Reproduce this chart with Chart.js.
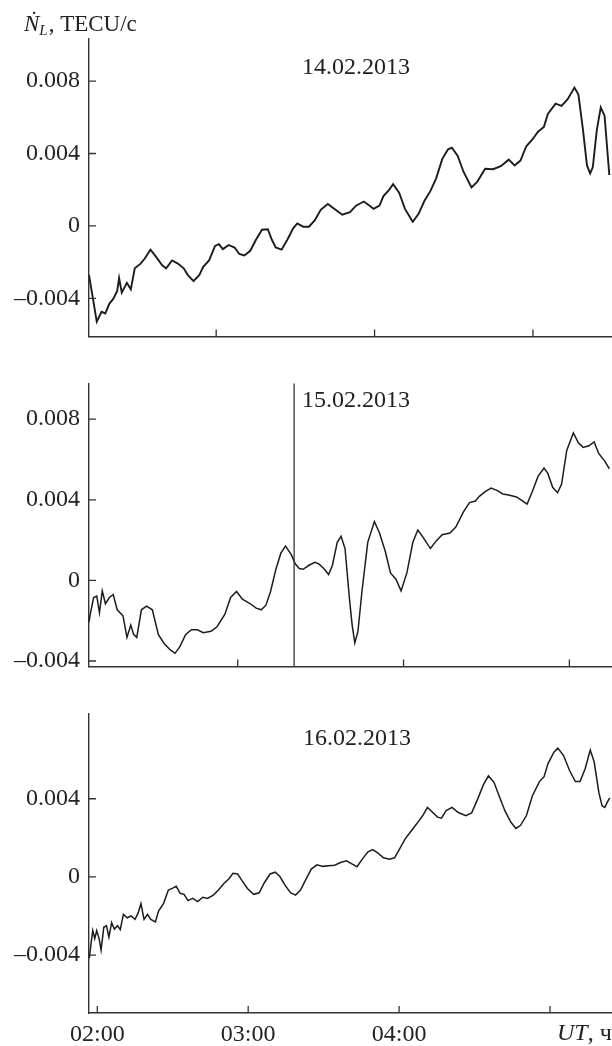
<!DOCTYPE html>
<html>
<head>
<meta charset="utf-8">
<script src="https://cdn.jsdelivr.net/npm/chart.js@4.4.1/dist/chart.umd.min.js"></script>
<style>
  body { margin: 0; background: #fff; }
  #wrap { position: relative; width: 612px; height: 1046px; }
  canvas { position: absolute; left: 0; }
</style>
</head>
<body>
<div id="wrap">
  <canvas id="p1" width="612" height="360" style="top:0"></canvas>
  <canvas id="p2" width="612" height="330" style="top:360px"></canvas>
  <canvas id="p3" width="612" height="356" style="top:690px"></canvas>
</div>
<script>
// time in hours UT, rate of TEC change in TECU/s

// 14.02.2013
const t1 = [2.197, 2.246, 2.276, 2.300, 2.325, 2.350, 2.375, 2.387, 2.404, 2.436, 2.461, 2.486, 2.523, 2.548, 2.585, 2.622, 2.659, 2.684, 2.721, 2.758, 2.795, 2.820, 2.857, 2.894, 2.918, 2.955, 2.993, 3.017, 3.042, 3.079, 3.116, 3.146, 3.178, 3.215, 3.252, 3.289, 3.326, 3.351, 3.376, 3.413, 3.450, 3.487, 3.512, 3.549, 3.586, 3.623, 3.660, 3.705, 3.747, 3.796, 3.845, 3.883, 3.932, 3.969, 3.994, 4.031, 4.056, 4.093, 4.117, 4.155, 4.192, 4.241, 4.278, 4.315, 4.352, 4.389, 4.427, 4.464, 4.488, 4.525, 4.562, 4.612, 4.649, 4.698, 4.748, 4.797, 4.847, 4.884, 4.921, 4.958, 4.995, 5.032, 5.069, 5.094, 5.143, 5.180, 5.218, 5.262, 5.287, 5.316, 5.341, 5.361, 5.378, 5.403, 5.428, 5.452, 5.482];
const v1 = [-2.70e-3, -5.28e-3, -4.74e-3, -4.83e-3, -4.30e-3, -4.03e-3, -3.59e-3, -2.88e-3, -3.68e-3, -3.14e-3, -3.50e-3, -2.34e-3, -2.08e-3, -1.81e-3, -1.31e-3, -1.72e-3, -2.17e-3, -2.34e-3, -1.90e-3, -2.08e-3, -2.34e-3, -2.70e-3, -3.05e-3, -2.70e-3, -2.26e-3, -1.90e-3, -1.10e-3, -1.01e-3, -1.28e-3, -1.05e-3, -1.19e-3, -1.55e-3, -1.63e-3, -1.37e-3, -0.75e-3, -0.21e-3, -0.18e-3, -0.75e-3, -1.19e-3, -1.31e-3, -0.75e-3, -0.12e-3, 0.14e-3, -0.04e-3, -0.04e-3, 0.32e-3, 0.89e-3, 1.21e-3, 0.94e-3, 0.62e-3, 0.76e-3, 1.12e-3, 1.35e-3, 1.12e-3, 0.94e-3, 1.12e-3, 1.65e-3, 2.01e-3, 2.31e-3, 1.83e-3, 0.94e-3, 0.23e-3, 0.67e-3, 1.39e-3, 1.92e-3, 2.63e-3, 3.69e-3, 4.23e-3, 4.32e-3, 3.87e-3, 2.98e-3, 2.13e-3, 2.45e-3, 3.16e-3, 3.13e-3, 3.30e-3, 3.66e-3, 3.34e-3, 3.61e-3, 4.40e-3, 4.76e-3, 5.20e-3, 5.47e-3, 6.18e-3, 6.75e-3, 6.63e-3, 6.98e-3, 7.64e-3, 7.25e-3, 5.29e-3, 3.34e-3, 2.90e-3, 3.25e-3, 5.29e-3, 6.54e-3, 6.09e-3, 2.81e-3];

// 15.02.2013
const t2 = [2.103, 2.112, 2.131, 2.150, 2.166, 2.183, 2.202, 2.226, 2.249, 2.273, 2.308, 2.332, 2.355, 2.372, 2.391, 2.419, 2.450, 2.485, 2.521, 2.556, 2.592, 2.622, 2.651, 2.686, 2.721, 2.757, 2.792, 2.839, 2.875, 2.922, 2.957, 2.993, 3.028, 3.076, 3.111, 3.142, 3.170, 3.198, 3.229, 3.260, 3.288, 3.323, 3.347, 3.371, 3.394, 3.430, 3.465, 3.489, 3.519, 3.548, 3.571, 3.600, 3.623, 3.647, 3.673, 3.690, 3.706, 3.725, 3.749, 3.784, 3.824, 3.855, 3.890, 3.921, 3.954, 3.985, 4.020, 4.056, 4.086, 4.119, 4.162, 4.197, 4.233, 4.280, 4.315, 4.362, 4.398, 4.433, 4.457, 4.492, 4.528, 4.563, 4.599, 4.634, 4.681, 4.717, 4.745, 4.776, 4.811, 4.847, 4.870, 4.899, 4.929, 4.953, 4.984, 5.024, 5.054, 5.083, 5.118, 5.149, 5.177, 5.213, 5.241];
const v2 = [-2.07e-3, -1.61e-3, -0.85e-3, -0.78e-3, -1.61e-3, -0.52e-3, -1.16e-3, -0.85e-3, -0.70e-3, -1.46e-3, -1.76e-3, -2.83e-3, -2.22e-3, -2.68e-3, -2.83e-3, -1.46e-3, -1.28e-3, -1.46e-3, -2.68e-3, -3.13e-3, -3.44e-3, -3.62e-3, -3.29e-3, -2.68e-3, -2.45e-3, -2.45e-3, -2.60e-3, -2.53e-3, -2.30e-3, -1.69e-3, -0.85e-3, -0.55e-3, -0.93e-3, -1.16e-3, -1.38e-3, -1.46e-3, -1.23e-3, -0.55e-3, 0.52e-3, 1.35e-3, 1.70e-3, 1.28e-3, 0.82e-3, 0.59e-3, 0.55e-3, 0.75e-3, 0.90e-3, 0.82e-3, 0.59e-3, 0.29e-3, 0.75e-3, 1.89e-3, 2.19e-3, 1.58e-3, -0.85e-3, -2.22e-3, -3.10e-3, -2.53e-3, -0.55e-3, 1.89e-3, 2.92e-3, 2.35e-3, 1.43e-3, 0.37e-3, 0.06e-3, -0.52e-3, 0.37e-3, 1.89e-3, 2.50e-3, 2.12e-3, 1.58e-3, 1.96e-3, 2.27e-3, 2.35e-3, 2.65e-3, 3.41e-3, 3.86e-3, 3.94e-3, 4.17e-3, 4.40e-3, 4.58e-3, 4.47e-3, 4.29e-3, 4.24e-3, 4.14e-3, 3.94e-3, 3.79e-3, 4.40e-3, 5.16e-3, 5.57e-3, 5.31e-3, 4.62e-3, 4.35e-3, 4.78e-3, 6.45e-3, 7.32e-3, 6.83e-3, 6.60e-3, 6.68e-3, 6.87e-3, 6.30e-3, 5.92e-3, 5.54e-3];
const marker2 = 3.340;

// 16.02.2013
const t3 = [1.947, 1.957, 1.970, 1.983, 1.996, 2.012, 2.025, 2.043, 2.061, 2.077, 2.095, 2.113, 2.134, 2.152, 2.173, 2.198, 2.224, 2.250, 2.271, 2.289, 2.310, 2.333, 2.354, 2.385, 2.406, 2.440, 2.471, 2.497, 2.523, 2.549, 2.575, 2.601, 2.632, 2.665, 2.699, 2.730, 2.769, 2.803, 2.839, 2.873, 2.899, 2.930, 2.958, 2.995, 3.036, 3.073, 3.106, 3.145, 3.179, 3.210, 3.244, 3.280, 3.314, 3.347, 3.379, 3.418, 3.456, 3.495, 3.534, 3.573, 3.612, 3.651, 3.690, 3.721, 3.755, 3.794, 3.825, 3.858, 3.897, 3.936, 3.970, 4.001, 4.040, 4.079, 4.118, 4.157, 4.188, 4.222, 4.255, 4.281, 4.312, 4.351, 4.390, 4.442, 4.481, 4.520, 4.559, 4.592, 4.629, 4.663, 4.701, 4.740, 4.774, 4.805, 4.844, 4.883, 4.930, 4.961, 4.987, 5.026, 5.052, 5.090, 5.129, 5.168, 5.199, 5.233, 5.267, 5.293, 5.324, 5.345, 5.363, 5.381, 5.396];
const v3 = [-4.16e-3, -3.50e-3, -2.75e-3, -3.16e-3, -2.75e-3, -3.16e-3, -3.74e-3, -2.58e-3, -2.50e-3, -3.08e-3, -2.34e-3, -2.67e-3, -2.50e-3, -2.70e-3, -1.92e-3, -2.09e-3, -2.00e-3, -2.17e-3, -1.84e-3, -1.37e-3, -2.17e-3, -1.92e-3, -2.17e-3, -2.30e-3, -1.75e-3, -1.34e-3, -0.67e-3, -0.59e-3, -0.48e-3, -0.84e-3, -0.89e-3, -1.21e-3, -1.10e-3, -1.26e-3, -1.04e-3, -1.10e-3, -0.93e-3, -0.67e-3, -0.34e-3, -0.09e-3, 0.19e-3, 0.15e-3, -0.18e-3, -0.59e-3, -0.89e-3, -0.81e-3, -0.31e-3, 0.15e-3, 0.24e-3, 0.02e-3, -0.42e-3, -0.81e-3, -0.93e-3, -0.67e-3, -0.18e-3, 0.40e-3, 0.62e-3, 0.54e-3, 0.57e-3, 0.60e-3, 0.74e-3, 0.82e-3, 0.65e-3, 0.52e-3, 0.90e-3, 1.28e-3, 1.40e-3, 1.23e-3, 0.98e-3, 0.90e-3, 0.98e-3, 1.40e-3, 1.95e-3, 2.34e-3, 2.73e-3, 3.14e-3, 3.56e-3, 3.31e-3, 3.06e-3, 3.01e-3, 3.39e-3, 3.56e-3, 3.31e-3, 3.14e-3, 3.28e-3, 3.97e-3, 4.72e-3, 5.17e-3, 4.84e-3, 4.14e-3, 3.39e-3, 2.81e-3, 2.48e-3, 2.64e-3, 3.14e-3, 4.14e-3, 4.88e-3, 5.13e-3, 5.80e-3, 6.38e-3, 6.59e-3, 6.21e-3, 5.46e-3, 4.88e-3, 4.88e-3, 5.54e-3, 6.49e-3, 5.88e-3, 4.31e-3, 3.64e-3, 3.56e-3, 3.84e-3, 4.05e-3];

const dates = ['14.02.2013', '15.02.2013', '16.02.2013'];

// axis ticks
const yTicksA = [-0.004, 0, 0.004, 0.008];
const yLabelsA = ['\u20130.004', '0', '0.004', '0.008'];
const yTicksB = [-0.004, 0, 0.004];
const yLabelsB = ['\u20130.004', '0', '0.004'];
const xTicks = [2, 3, 4, 5];
const xLabels = ['02:00', '03:00', '04:00', ''];

const INK = '#1c1c1c';
const AXIS = '#333';
const SERIF = '"Liberation Serif", "Times New Roman", serif';

function inwardTicks() {
    return {
        id: 'inwardTicks',
        afterDraw(chart) {
            const { ctx, chartArea: a, scales: { x, y } } = chart;
            ctx.save();
            ctx.strokeStyle = AXIS;
            ctx.lineWidth = 1.3;
            ctx.beginPath();
            y.ticks.forEach(t => {
                const p = y.getPixelForValue(t.value);
                ctx.moveTo(a.left, p);
                ctx.lineTo(a.left + 7, p);
            });
            x.ticks.forEach(t => {
                const p = x.getPixelForValue(t.value);
                if (p < a.left + 2) return;
                ctx.moveTo(p, a.bottom);
                ctx.lineTo(p, a.bottom - 7);
            });
            ctx.stroke();
            ctx.restore();
        }
    };
}

function dateText(text, tx, ty) {
    return {
        id: 'dateText',
        afterDraw(chart) {
            const ctx = chart.ctx;
            ctx.save();
            ctx.font = '24px ' + SERIF;
            ctx.fillStyle = '#222';
            ctx.textAlign = 'left';
            ctx.textBaseline = 'middle';
            ctx.fillText(text, tx, ty);
            ctx.restore();
        }
    };
}

function makePanel(id, opt) {
    const xLast = opt.showX ? xLabels : null;
    return new Chart(document.getElementById(id), {
        type: 'line',
        data: {
            datasets: [{
                data: opt.t.map((t, i) => ({ x: t, y: opt.v[i] })),
                borderColor: INK,
                borderWidth: opt.lw,
                pointRadius: 0,
                tension: 0,
                fill: false
            }]
        },
        options: {
            responsive: false,
            animation: false,
            devicePixelRatio: 1,
            layout: { padding: { top: opt.top, bottom: opt.bottom, left: 0, right: 0 } },
            plugins: { legend: { display: false }, tooltip: { enabled: false } },
            scales: {
                x: {
                    type: 'linear',
                    min: opt.xmin, max: opt.xmax,
                    grid: { display: false, drawTicks: false },
                    border: { display: true, color: AXIS, width: 1.4 },
                    afterBuildTicks: s => { s.ticks = opt.xt.map(v => ({ value: v })); },
                    afterFit: s => { s.height = opt.xh; },
                    ticks: {
                        display: !!opt.showX,
                        autoSkip: false, maxRotation: 0, padding: 10,
                        color: '#222',
                        font: { family: SERIF, size: 24, lineHeight: 1 },
                        callback: (v, i) => xLast ? xLast[xTicks.indexOf(v)] : ''
                    }
                },
                y: {
                    min: opt.ymin, max: opt.ymax,
                    grid: { display: false, drawTicks: false },
                    border: { display: true, color: AXIS, width: 1.4 },
                    afterBuildTicks: s => { s.ticks = opt.yt.map(v => ({ value: v })); },
                    afterFit: s => { s.width = 89; },
                    ticks: {
                        padding: 9,
                        color: '#222',
                        font: { family: SERIF, size: 24 },
                        callback: (v, i) => opt.yl[opt.yt.indexOf(v)]
                    }
                }
            }
        },
        plugins: [inwardTicks()].concat(opt.extra || [])
    });
}

const yLabelPlugin = {
    id: 'yLabel',
    afterDraw(chart) {
        const ctx = chart.ctx;
        ctx.save();
        ctx.fillStyle = '#222';
        ctx.textBaseline = 'alphabetic';
        let x = 24;
        ctx.font = 'italic 23px ' + SERIF;
        ctx.fillText('\u1E44', x, 31);
        x += ctx.measureText('\u1E44').width;
        ctx.font = 'italic 15px ' + SERIF;
        ctx.fillText('L', x, 35);
        x += ctx.measureText('L').width + 1;
        ctx.font = '23px ' + SERIF;
        ctx.fillText(', TECU/c', x, 31);
        ctx.restore();
    }
};

const markerPlugin = {
    id: 'marker',
    afterDatasetsDraw(chart) {
        const { ctx, chartArea: a, scales: { x } } = chart;
        const p = x.getPixelForValue(marker2);
        ctx.save();
        ctx.strokeStyle = '#333';
        ctx.lineWidth = 1.3;
        ctx.beginPath();
        ctx.moveTo(p, a.top);
        ctx.lineTo(p, a.bottom);
        ctx.stroke();
        ctx.restore();
    }
};

const utPlugin = {
    id: 'utLabel',
    afterDraw(chart) {
        const { ctx, scales: { x } } = chart;
        const p = x.getPixelForValue(xTicks[3]) + 7;
        ctx.save();
        ctx.fillStyle = '#222';
        ctx.textBaseline = 'middle';
        ctx.font = 'italic 24px ' + SERIF;
        ctx.fillText('UT', p, 344);
        const w = ctx.measureText('UT').width;
        ctx.font = '24px ' + SERIF;
        ctx.fillText(', \u0447', p + w, 344);
        ctx.restore();
    }
};

makePanel('p1', {
    t: t1, v: v1, lw: 1.9,
    xmin: 2.197, xmax: 5.499, ymin: -6.108e-3, ymax: 10.32e-3,
    xt: [3, 4, 5], yt: yTicksA, yl: yLabelsA,
    top: 39, bottom: 12.7, xh: 0,
    extra: [yLabelPlugin, dateText(dates[0], 302, 68)]
});

makePanel('p2', {
    t: t2, v: v2, lw: 1.5,
    xmin: 2.103, xmax: 5.257, ymin: -4.279e-3, ymax: 9.776e-3,
    xt: [3, 4, 5], yt: yTicksA, yl: yLabelsA,
    top: 14, bottom: 8.3, xh: 0,
    extra: [markerPlugin, dateText(dates[1], 302, 41)]
});

makePanel('p3', {
    t: t3, v: v3, lw: 1.5,
    xmin: 1.945, xmax: 5.411, ymin: -6.965e-3, ymax: 8.369e-3,
    xt: xTicks, yt: yTicksB, yl: yLabelsB, showX: true,
    top: 15, bottom: 0, xh: 33,
    extra: [utPlugin, dateText(dates[2], 303, 48.5)]
});
</script>
</body>
</html>
